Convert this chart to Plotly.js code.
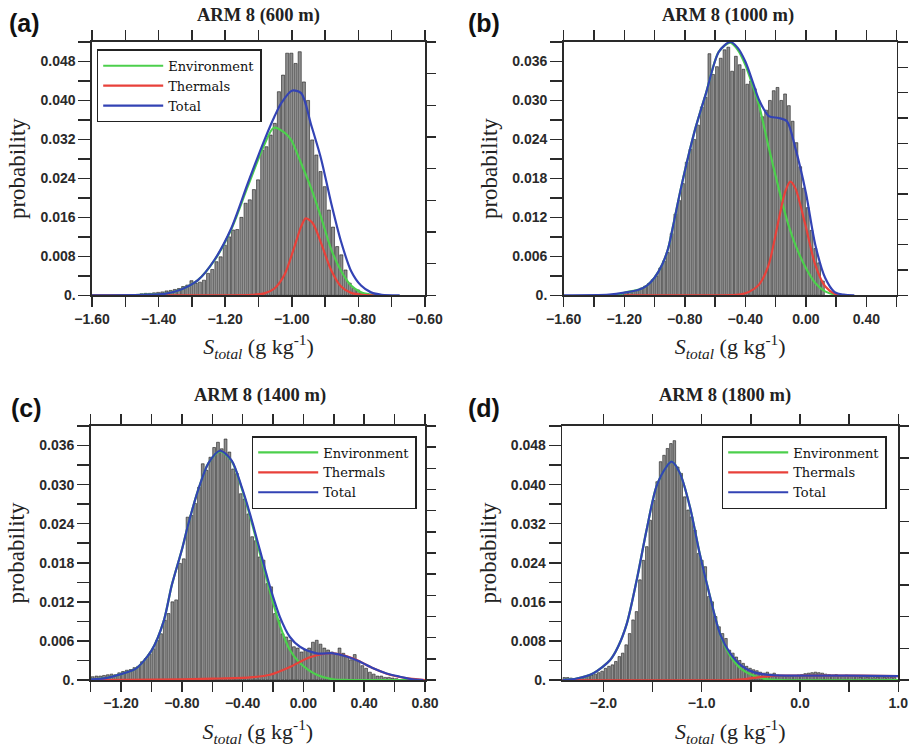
<!DOCTYPE html>
<html>
<head>
<meta charset="utf-8">
<script src="https://cdn.plot.ly/plotly-3.0.1.min.js"></script>
<style>html,body{margin:0;padding:0;background:#fff;}#chart{width:911px;height:752px;}</style>
</head>
<body>
<div id="chart"></div>
<script>
// ---------------- DATA ----------------
// Panel (a) ARM 8 (600 m)
const binStartA = -1.4575, binWidthA = 0.0125;
const probA = [0.0003,0.0004,0.0004,0.0005,0.0006,0.0007,0.0009,0.0010,0.0012,0.0014,0.0018,0.0021,
  0.0030,0.0025,0.0027,0.0031,0.0045,0.0053,0.0069,0.0079,0.0103,0.0120,0.0134,0.0135,0.0160,0.0189,
  0.0196,0.0217,0.0237,0.0298,0.0305,0.0329,0.0353,0.0418,0.0452,0.0497,0.0497,0.0476,0.0500,0.0438,
  0.0400,0.0319,0.0288,0.0254,0.0223,0.0175,0.0140,0.0100,0.0083,0.0052,0.0025,0.0014,0.0011,0.0005,0.0003];
const envXA = [-1.6,-1.45,-1.382,-1.332,-1.282,-1.232,-1.182,-1.132,-1.082,-1.054,-1.02,-1.002,-0.972,-0.942,-0.912,-0.882,-0.852,-0.822,-0.792,-0.76,-0.736];
const envYA = [0,0.0001,0.0003,0.0012,0.0031,0.0072,0.0135,0.0224,0.0310,0.0344,0.0333,0.0319,0.0271,0.0220,0.0160,0.0095,0.0050,0.0020,0.0006,0.0001,0];
const thrXA = [-1.6,-1.2,-1.12,-1.082,-1.052,-1.022,-0.992,-0.972,-0.958,-0.937,-0.912,-0.882,-0.852,-0.822,-0.79,-0.736];
const thrYA = [0,0,0.0001,0.0004,0.0014,0.0042,0.0100,0.0141,0.0158,0.0148,0.0107,0.0052,0.0018,0.0005,0.0001,0];
const totXA = [-1.6,-1.45,-1.382,-1.332,-1.282,-1.232,-1.182,-1.132,-1.082,-1.052,-1.032,-1.0,-0.972,-0.942,-0.912,-0.882,-0.852,-0.822,-0.792,-0.762,-0.73,-0.676];
const totYA = [0,0.0001,0.0003,0.0012,0.0031,0.0073,0.0137,0.0230,0.0319,0.0367,0.0394,0.0420,0.0415,0.0350,0.0280,0.0190,0.0110,0.0050,0.0020,0.0006,0.0001,0];

// Panel (b) ARM 8 (1000 m)
const binStartB = -1.225, binWidthB = 0.025;
const probB = [0.0003,0.0004,0.0005,0.0006,0.0008,0.0011,0.0014,0.0018,0.0024,0.0030,0.0042,0.0053,0.0066,
  0.0095,0.0125,0.0146,0.0172,0.0205,0.0225,0.0240,0.0262,0.0290,0.0305,0.0372,0.0340,0.0352,0.0365,0.0378,
  0.0382,0.0345,0.0368,0.0355,0.0348,0.0325,0.0330,0.0318,0.0300,0.0275,0.0285,0.0300,0.0315,0.0320,0.0300,
  0.0310,0.0292,0.0268,0.0235,0.0198,0.0165,0.0135,0.0100,0.0072,0.0050,0.0022];
const envXB = [-1.25,-1.2,-1.1,-1.05,-1.0,-0.95,-0.91,-0.87,-0.83,-0.79,-0.73,-0.66,-0.575,-0.5,-0.45,-0.4,-0.35,-0.31,-0.245,-0.18,-0.125,-0.07,0.0,0.062,0.127,0.19,0.23];
const envYB = [0,0.0004,0.0009,0.0015,0.0027,0.0047,0.0072,0.0115,0.0160,0.0201,0.0257,0.0311,0.0375,0.0389,0.0378,0.0355,0.0322,0.0293,0.0227,0.0165,0.0116,0.0078,0.0042,0.0019,0.0006,0.0001,0];
const thrXB = [-1.2,-0.6,-0.44,-0.377,-0.311,-0.246,-0.18,-0.136,-0.103,-0.07,-0.004,0.062,0.127,0.193,0.23];
const thrYB = [0,0,0.0001,0.0005,0.0016,0.0047,0.0116,0.0160,0.0175,0.0165,0.0109,0.0047,0.0014,0.0002,0];
const totXB = [-1.6,-1.3,-1.2,-1.1,-1.05,-1.0,-0.95,-0.91,-0.87,-0.83,-0.79,-0.73,-0.66,-0.575,-0.5,-0.45,-0.4,-0.35,-0.31,-0.245,-0.18,-0.125,-0.07,0.0,0.062,0.127,0.19,0.25,0.32];
const totYB = [0,0.0001,0.0004,0.0009,0.0015,0.0027,0.0047,0.0072,0.0115,0.0160,0.0201,0.0257,0.0311,0.0375,0.0390,0.0381,0.0360,0.0328,0.0301,0.0276,0.0273,0.0268,0.0227,0.0158,0.0078,0.0027,0.0005,0.0001,0];

// Panel (c) ARM 8 (1400 m)
const binStartC = -1.4, binWidthC = 0.025;
const probC = [0.0005,0.0006,0.0006,0.0007,0.0008,0.0009,0.0008,0.0011,0.0013,0.0015,
  0.0016,0.0019,0.0021,0.0028,0.0033,0.0040,0.0048,0.0061,0.0071,0.0092,
  0.0102,0.0120,0.0123,0.0179,0.0186,0.0250,0.0253,0.0271,0.0296,0.0332,
  0.0322,0.0342,0.0357,0.0365,0.0355,0.0370,0.0350,0.0324,0.0317,0.0286,
  0.0278,0.0255,0.0220,0.0214,0.0189,0.0184,0.0148,0.0143,0.0102,0.0092,
  0.0071,0.0066,0.0061,0.0051,0.0049,0.0043,0.0046,0.0049,0.0058,0.0061,
  0.0055,0.0049,0.0046,0.0043,0.0041,0.0049,0.0041,0.0036,0.0031,0.0039,
  0.0030,0.0022,0.0018,0.0012,0.0009,0.0006,0.0006,0.0004,0.0004,0.0003,0.0002];
const envXC = [-1.4,-1.3,-1.2,-1.1,-1.0,-0.92,-0.867,-0.80,-0.757,-0.691,-0.625,-0.549,-0.472,-0.406,-0.352,-0.286,-0.22,-0.155,-0.089,-0.023,0.087,0.196,0.3,0.8];
const envYC = [0.0001,0.0003,0.0009,0.0018,0.0045,0.0090,0.0145,0.0200,0.0240,0.0293,0.0333,0.0351,0.0336,0.0294,0.0252,0.0194,0.0136,0.0084,0.0046,0.0026,0.0008,0.0001,0,0];
const thrXC = [-1.34,-0.8,-0.6,-0.352,-0.22,-0.089,0.043,0.196,0.328,0.459,0.569,0.7,0.8];
const thrYC = [0,0.0001,0.0002,0.0004,0.0008,0.0020,0.0035,0.0041,0.0033,0.0018,0.0008,0.0002,0];
const totXC = [-1.4,-1.3,-1.2,-1.1,-1.0,-0.92,-0.867,-0.80,-0.757,-0.691,-0.625,-0.549,-0.472,-0.406,-0.352,-0.286,-0.22,-0.155,-0.089,-0.023,0.087,0.196,0.284,0.372,0.459,0.547,0.635,0.72,0.79];
const totYC = [0.0001,0.0003,0.0009,0.0018,0.0045,0.0090,0.0145,0.0200,0.0240,0.0293,0.0333,0.0352,0.0337,0.0296,0.0255,0.0199,0.0143,0.0097,0.0066,0.0051,0.0041,0.0041,0.0036,0.0028,0.0018,0.0010,0.0005,0.0001,0];

// Panel (d) ARM 8 (1800 m)
const binStartD = -2.415, binWidthD = 0.035;
const probD = [0.0005,0.0005,0.0004,0.0003,0.0004,0.0005,0.0006,0.0008,0.0010,0.0012,0.0015,0.0018,
  0.0024,0.0028,0.0031,0.0038,0.0048,0.0055,0.0072,0.0095,0.0123,0.0140,0.0205,0.0245,0.0273,0.0327,
  0.0368,0.0406,0.0447,0.0460,0.0474,0.0484,0.0490,0.0436,0.0423,0.0375,0.0348,0.0334,0.0307,0.0259,
  0.0245,0.0232,0.0171,0.0160,0.0130,0.0109,0.0095,0.0085,0.0061,0.0055,
  0.0047,0.0040,0.0034,0.0028,0.0024,0.0021,0.0019,0.0016,0.0014,0.0016,0.0012,0.0014,0.0010,0.0009,
  0.0008,0.0007,0.0008,0.0009,0.0010,0.0011,0.0013,0.0014,0.0015,0.0016,0.0015,0.0014,0.0012,0.0011,
  0.0010,0.0011,0.0009,0.0008,0.0010,0.0008,0.0009,0.0007,0.0006,0.0008,0.0006,0.0007,0.0005,0.0006,
  0.0007,0.0006,0.0005,0.0006,0.0005];
const envXD = [-2.417,-2.27,-2.1,-1.93,-1.85,-1.76,-1.66,-1.56,-1.46,-1.36,-1.305,-1.22,-1.12,-1.02,-0.915,-0.814,-0.71,-0.593,-0.458,-0.35,-0.2,1.0];
const envYD = [0,0.0003,0.0014,0.0041,0.0068,0.0116,0.0205,0.0307,0.0396,0.0436,0.0447,0.0423,0.0355,0.0259,0.0171,0.0095,0.0050,0.0022,0.0008,0.0002,0,0];
const thrXD = [-2.417,-0.7,-0.55,-0.45,-0.36,-0.2,0.2,0.6,1.0];
const thrYD = [0,0,0.0002,0.0005,0.0007,0.0009,0.0009,0.0009,0.0008];
const totXD = [-2.417,-2.27,-2.1,-1.93,-1.85,-1.76,-1.66,-1.56,-1.46,-1.36,-1.305,-1.22,-1.12,-1.02,-0.915,-0.814,-0.71,-0.593,-0.458,-0.288,0.0,0.5,1.0];
const totYD = [0,0.0003,0.0014,0.0041,0.0068,0.0116,0.0205,0.0307,0.0396,0.0436,0.0447,0.0423,0.0355,0.0259,0.0171,0.0095,0.0055,0.0029,0.0015,0.0010,0.0009,0.0009,0.0008];

// Tick labels
const MINUS = '\u2212';
const xTickValsA = [-1.6,-1.4,-1.2,-1.0,-0.8,-0.6];
const xTickTextA = [MINUS+'1.60',MINUS+'1.40',MINUS+'1.20',MINUS+'1.00',MINUS+'0.80',MINUS+'0.60'];
const xTickValsB = [-1.6,-1.2,-0.8,-0.4,0,0.4];
const xTickTextB = [MINUS+'1.60',MINUS+'1.20',MINUS+'0.80',MINUS+'0.40','0.00','0.40'];
const xTickValsC = [-1.2,-0.8,-0.4,0,0.4,0.8];
const xTickTextC = [MINUS+'1.20',MINUS+'0.80',MINUS+'0.40','0.00','0.40','0.80'];
const xTickValsD = [-2,-1,0,1];
const xTickTextD = [MINUS+'2.0',MINUS+'1.0','0.0','1.0'];
const yTickVals8 = [0,0.008,0.016,0.024,0.032,0.040,0.048];
const yTickText8 = ['0.','0.008','0.016','0.024','0.032','0.040','0.048'];
const yTickVals6 = [0,0.006,0.012,0.018,0.024,0.030,0.036];
const yTickText6 = ['0.','0.006','0.012','0.018','0.024','0.030','0.036'];

const panelTitles = ['ARM 8 (600 m)','ARM 8 (1000 m)','ARM 8 (1400 m)','ARM 8 (1800 m)'];
const panelLetters = ['(a)','(b)','(c)','(d)'];
const seriesNames = ['Environment','Thermals','Total'];

// ---------------- STYLE ----------------
const W = 911, H = 752;
const px = v => v / W, py = v => 1 - v / H;
const GREEN = '#4ccf4c', RED = '#e8413a', BLUE = '#3343b4';
const AX = '#2a2a2a';
const serif = 'Liberation Serif, Times New Roman, serif';
const legSerif = 'DejaVu Serif, Liberation Serif, serif';
const sans = 'Liberation Sans, Arial, sans-serif';
const xTitle = '<i>S</i><sub><i>total</i></sub> (g kg<sup>-1</sup>)';

function centers(start, w, arr) { return arr.map((_, i) => start + w * (i + 0.5)); }

function barTrace(start, w, arr, xa, ya) {
  return {type:'bar', x: centers(start, w, arr), y: arr, width: w * 0.74,
    xaxis: xa, yaxis: ya, showlegend: false, hoverinfo: 'skip',
    marker: {color: '#8e8e8e', line: {color: '#1c1c1c', width: 0.6}}};
}
function lineTrace(x, y, color, name, xa, ya, legend, show) {
  return {type:'scatter', mode:'lines', x, y, name, xaxis: xa, yaxis: ya,
    legend: legend, showlegend: show, hoverinfo: 'skip',
    line: {color, width: 2.2, shape: 'spline', smoothing: 0.8}};
}
function ghost(xa, ya) {
  return {type:'scatter', mode:'markers', x:[null], y:[null], xaxis: xa, yaxis: ya, showlegend:false, hoverinfo:'skip'};
}

const data = [];
const panels = [
  {xa:'x', ya:'y', r:'y5', start:binStartA, w:binWidthA, p:probA, env:[envXA,envYA], thr:[thrXA,thrYA], tot:[totXA,totYA], leg:'legend'},
  {xa:'x2', ya:'y2', r:'y6', start:binStartB, w:binWidthB, p:probB, env:[envXB,envYB], thr:[thrXB,thrYB], tot:[totXB,totYB], leg:null},
  {xa:'x3', ya:'y3', r:'y7', start:binStartC, w:binWidthC, p:probC, env:[envXC,envYC], thr:[thrXC,thrYC], tot:[totXC,totYC], leg:'legend2'},
  {xa:'x4', ya:'y4', r:'y8', start:binStartD, w:binWidthD, p:probD, env:[envXD,envYD], thr:[thrXD,thrYD], tot:[totXD,totYD], leg:'legend3'}
];
panels.forEach(P => {
  data.push(barTrace(P.start, P.w, P.p, P.xa, P.ya));
  const lg = P.leg || 'legend';
  const show = !!P.leg;
  data.push(lineTrace(P.env[0], P.env[1], GREEN, seriesNames[0], P.xa, P.ya, lg, show));
  data.push(lineTrace(P.thr[0], P.thr[1], RED, seriesNames[1], P.xa, P.ya, lg, show));
  data.push(lineTrace(P.tot[0], P.tot[1], BLUE, seriesNames[2], P.xa, P.ya, lg, show));
  data.push(ghost(P.xa, P.r));
});

const tickFont = {family: sans, size: 14, color: '#2a2a2a', weight: 'bold'};
function xAxis(domain, range, anchor, vals, text, minorDtick) {
  return {domain, range, anchor, tickmode:'array', tickvals: vals, ticktext: text,
    ticks:'outside', ticklen: 10, tickwidth: 1.5, tickcolor: AX,
    minor: {tickmode:'linear', tick0: 0, dtick: minorDtick, ticks:'outside', ticklen: 10, tickwidth: 1.5, tickcolor: AX, showgrid:false},
    showline: true, linecolor: AX, linewidth: 1.6, mirror: 'ticks',
    showgrid: false, zeroline: false, tickfont: tickFont, fixedrange: true,
    title: {text: xTitle, font: {family: serif, size: 22, color: '#222'}, standoff: 13}};
}
function yAxis(domain, range, anchor, vals, text, minorDtick) {
  return {domain, range, anchor, tickmode:'array', tickvals: vals, ticktext: text,
    ticks:'outside', ticklen: 12, tickwidth: 1.5, tickcolor: AX,
    minor: {tickmode:'linear', tick0: 0, dtick: minorDtick, ticks:'outside', ticklen: 12, tickwidth: 1.5, tickcolor: AX, showgrid:false},
    showline: true, linecolor: AX, linewidth: 1.6, mirror: true,
    showgrid: false, zeroline: false, tickfont: tickFont, fixedrange: true,
    title: {text: 'probability', font: {family: serif, size: 23, color: '#222'}, standoff: 8}};
}
function rAxis(over, anchor, range, n) {
  return {overlaying: over, side: 'right', anchor, range, tickmode: 'linear', tick0: 0, dtick: range[1] / n,
    ticks: 'outside', ticklen: 10, tickwidth: 1.5, tickcolor: AX, showticklabels: false,
    showline: false, showgrid: false, zeroline: false, fixedrange: true};
}
function legendBox(x, y) {
  return {x, y, xanchor:'left', yanchor:'top', bgcolor:'#fff', bordercolor:'#222', borderwidth:1.5,
    font:{family: legSerif, size: 13, color:'#111'}, itemwidth: 60, tracegroupgap: 0};
}

const annotations = [];
const titlePos = [[258, 15], [728, 15], [260, 395], [725, 396]];
const letterPos = [[7, 23], [466, 23], [9, 408], [466, 408]];
panelTitles.forEach((t, i) => annotations.push({text: t, xref:'paper', yref:'paper',
  x: px(titlePos[i][0]), y: py(titlePos[i][1]), xanchor:'center', yanchor:'middle', showarrow:false,
  font:{family: serif, size: 18.5, color:'#222', weight: 'bold'}}));
panelLetters.forEach((t, i) => annotations.push({text: t, xref:'paper', yref:'paper',
  x: px(letterPos[i][0]), y: py(letterPos[i][1]), xanchor:'left', yanchor:'middle', showarrow:false,
  font:{family: sans, size: 25, color:'#111', weight: 'bold'}}));

const layout = {
  width: W, height: H, margin: {l:0, r:0, t:0, b:0},
  paper_bgcolor: '#fff', plot_bgcolor: '#fff', barmode: 'overlay', showlegend: true,
  font: {family: sans, color: '#222'},
  xaxis:  xAxis([px(92), px(425)], [-1.6, -0.6], 'y', xTickValsA, xTickTextA, 0.1),
  yaxis:  yAxis([1 - 295.3/H, 1 - 42/H], [0, 0.052], 'x', yTickVals8, yTickText8, 0.004),
  xaxis2: xAxis([px(563.7), px(896.7)], [-1.6, 0.6], 'y2', xTickValsB, xTickTextB, 0.2),
  yaxis2: yAxis([1 - 295.3/H, 1 - 42/H], [0, 0.039], 'x2', yTickVals6, yTickText6, 0.003),
  xaxis3: xAxis([px(90.7), px(425)], [-1.4, 0.8], 'y3', xTickValsC, xTickTextC, 0.2),
  yaxis3: yAxis([1 - 680/H, 1 - 426/H], [0, 0.039], 'x3', yTickVals6, yTickText6, 0.003),
  xaxis4: xAxis([px(562.3), px(898.3)], [-2.417, 1.0], 'y4', xTickValsD, xTickTextD, 0.5),
  yaxis4: yAxis([1 - 680/H, 1 - 426/H], [0, 0.052], 'x4', yTickVals8, yTickText8, 0.004),
  yaxis5: rAxis('y', 'x', [0, 0.052], 8),
  yaxis6: rAxis('y2', 'x2', [0, 0.039], 10),
  yaxis7: rAxis('y3', 'x3', [0, 0.039], 12),
  yaxis8: rAxis('y4', 'x4', [0, 0.052], 8),
  legend:  legendBox(px(96.7), py(49.3)),
  legend2: legendBox(px(251.7), py(436)),
  legend3: legendBox(px(721.7), py(436)),
  annotations
};

Plotly.newPlot('chart', data, layout, {displayModeBar: false, staticPlot: true});
</script>
</body>
</html>
